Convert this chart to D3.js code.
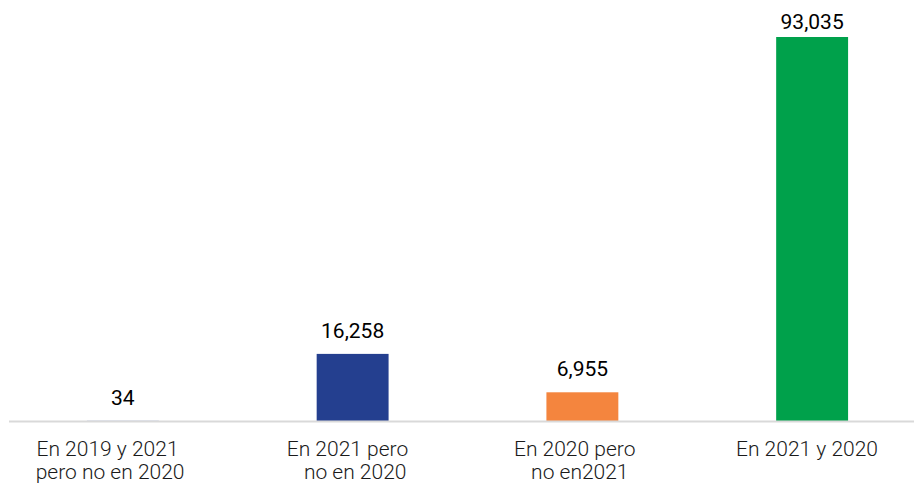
<!DOCTYPE html>
<html>
<head>
<meta charset="utf-8">
<script src="https://cdn.jsdelivr.net/npm/d3@7"></script>
<style>
  html, body { margin: 0; padding: 0; background: #fff; }
  svg { display: block; }
  text { font-family: Roboto, "Noto Sans", sans-serif; }
</style>
</head>
<body>
<svg id="chart" width="914" height="483"></svg>
<script>
// Data
const categories = ["c1", "c2", "c3", "c4"];
const categoryLabels = [
  ["En 2019 y 2021      ", "pero no en 2020     "],
  ["En 2021 pero  ", " no en 2020"],
  ["En 2020 pero   ", " no en2021  "],
  ["En 2021 y 2020  "]
];
const values = [34, 16258, 6955, 93035];
const colors = ["#243F8F", "#243F8F", "#F4853E", "#00A14B"];

const width = 914, height = 483;
const svg = d3.select("#chart");

const x = d3.scaleBand()
  .domain(categories)
  .range([8, 927])
  .paddingInner(0.687)
  .paddingOuter(0.3435);

const y = d3.scaleLinear()
  .domain([0, 93035])
  .range([421, 37]);

// bars
svg.selectAll("rect.bar")
  .data(values)
  .join("rect")
  .attr("class", "bar")
  .attr("x", (d, i) => x(categories[i]))
  .attr("width", x.bandwidth())
  .attr("y", d => y(d))
  .attr("height", d => y(0) - y(d))
  .attr("fill", (d, i) => colors[i]);

// baseline axis
svg.append("line")
  .attr("x1", 9).attr("x2", width)
  .attr("y1", y(0) + 0.5).attr("y2", y(0) + 0.5)
  .attr("stroke", "#d9d9d9")
  .attr("stroke-width", 2);

// value labels
const fmt = d3.format(",");
svg.selectAll("text.val")
  .data(values)
  .join("text")
  .attr("class", "val")
  .attr("x", (d, i) => x(categories[i]) + x.bandwidth() / 2)
  .attr("y", d => Math.max(y(d) - 16, 29))
  .attr("text-anchor", "middle")
  .attr("font-size", 21)
  .attr("fill", "#000")
  .text(d => fmt(d));

// category labels
const g = svg.selectAll("text.cat")
  .data(categoryLabels)
  .join("text")
  .attr("class", "cat")
  .attr("x", (d, i) => x(categories[i]) + x.bandwidth() / 2)
  .attr("y", 456)
  .attr("text-anchor", "middle")
  .attr("font-size", 21)
  .attr("font-weight", 300)
  .attr("fill", "#1a1a1a")
  .style("white-space", "pre");

g.selectAll("tspan")
  .data(d => d)
  .join("tspan")
  .attr("x", function() { return d3.select(this.parentNode).attr("x"); })
  .attr("dy", (d, j) => j === 0 ? 0 : 23)
  .text(d => d);
</script>
</body>
</html>
